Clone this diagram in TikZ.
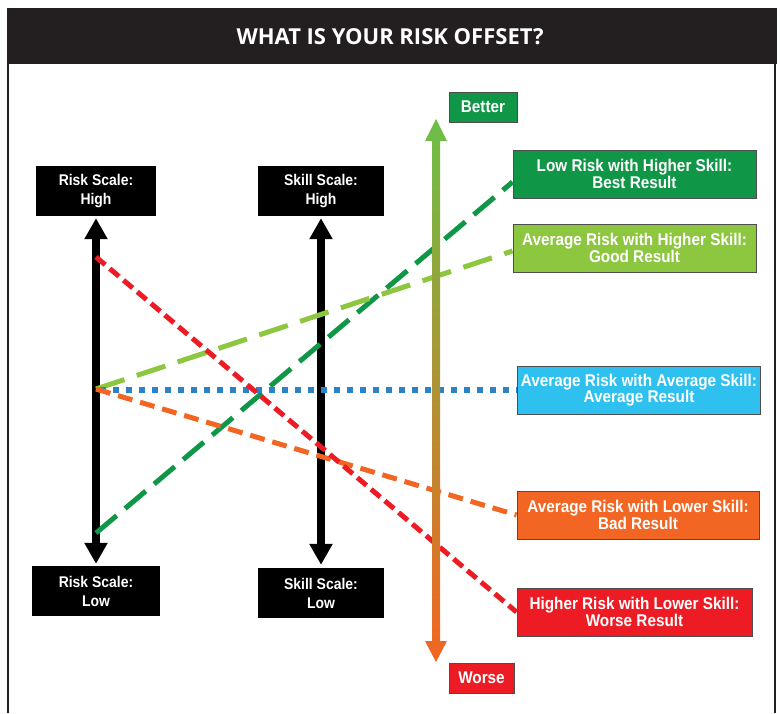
\documentclass[tikz,border=0pt]{standalone}
\usepackage{fontspec}
\setmainfont{Liberation Sans}[FakeStretch=0.9]
\newfontfamily\titlefont{Open Sans}
\usetikzlibrary{arrows.meta,positioning}

\definecolor{framegray}{HTML}{231F20}
\definecolor{bestgreen}{HTML}{0F9647}
\definecolor{goodgreen}{HTML}{8DC63F}
\definecolor{avgcyan}{HTML}{2EC1EF}
\definecolor{avgblue}{HTML}{2A82C7}
\definecolor{badorange}{HTML}{F26522}
\definecolor{worsered}{HTML}{ED1C24}
\definecolor{topgreen}{HTML}{6CBF47}
\definecolor{midolive}{HTML}{9CA83C}

\tikzset{
    scalebox/.style={fill=black, text=white, font=\bfseries\fontsize{15.5}{19}\selectfont,
        align=center, minimum height=50pt, inner sep=0pt},
    resultbox/.style={draw=framegray!80, line width=1pt, text=white,
        font=\bfseries\fontsize{17}{16.5}\selectfont, align=center,
        minimum width=243pt, minimum height=48pt, inner sep=0pt},
    tagbox/.style={resultbox, minimum width=66pt, minimum height=30pt},
    scalearrow/.style={line width=8pt,
        {Triangle[width=22pt,length=21pt]}-{Triangle[width=22pt,length=21pt]}},
    resultline/.style={line width=5pt},
}

\begin{document}
\begin{tikzpicture}[x=1pt, y=-1pt]
    \useasboundingbox (0,0) rectangle (780,713);
    \fill[framegray] (7,8) rectangle (777,64);
    \draw[framegray, line width=2pt] (8,64) -- (8,713) (775,64) -- (775,713);
    \node[text=white, font=\titlefont\bfseries\fontsize{22}{22}\selectfont] (title) at (390,37) {WHAT IS YOUR RISK OFFSET?};

    \node[scalebox, minimum width=120pt] (riskhigh) at (96,191) {Risk Scale:\\High};
    \node[scalebox, minimum width=128pt] (risklow) at (96,591) {Risk Scale:\\Low};
    \node[scalebox, minimum width=126pt] (skillhigh) at (321,191) {Skill Scale:\\High};
    \node[scalebox, minimum width=126pt] (skilllow) at (321,593) {Skill Scale:\\Low};

    \node[resultbox, fill=bestgreen] (lowhigh) at (634.5,174) {Low Risk with Higher Skill:\\Best Result};
    \node[resultbox, fill=goodgreen, below=25pt of lowhigh] (avghigh) {Average Risk with Higher Skill:\\Good Result};
    \node[resultbox, fill=avgcyan] (avgavg) at (639,390) {Average Risk with Average Skill:\\Average Result};
    \node[resultbox, fill=badorange, minimum width=242pt] (avglow) at (638,515) {Average Risk with Lower Skill:\\Bad Result};
    \node[resultbox, fill=worsered, minimum width=235pt] (highlow) at (634.5,612) {Higher Risk with Lower Skill:\\Worse Result};
    \node[tagbox, fill=bestgreen, minimum width=68pt] (better) at (483,107) {Better};
    \node[tagbox, fill=worsered, minimum width=65pt] (worse) at (481.5,678) {Worse};

    \draw[scalearrow] ([yshift=-2pt]riskhigh.south) -- ([yshift=2pt]risklow.north);
    \draw[scalearrow] ([yshift=-2pt]skillhigh.south) -- ([yshift=3pt]skilllow.north);

    \coordinate (riskup) at (96,257);
    \coordinate (riskmid) at (96,389);
    \coordinate (riskdown) at (96,533);

    \draw[resultline, bestgreen, dash pattern=on 27pt off 11pt] (riskdown) -- ([yshift=-8pt]lowhigh.west);
    \draw[resultline, goodgreen, dash pattern=on 30pt off 13pt] (riskmid) -- ([yshift=-3pt]avghigh.west);
    \draw[line width=6pt, avgblue, dash pattern=on 6pt off 7pt] ([xshift=4pt,yshift=-1pt]riskmid) -- (avgavg.west);
    \draw[resultline, badorange, dash pattern=on 15pt off 8pt] (riskmid) -- (avglow.west);
    \draw[resultline, worsered, dash pattern=on 12pt off 6pt] (riskup) -- (highlow.west);

    \coordinate (gradtop) at (436,119);
    \coordinate (gradbot) at (436,662);
    \shade[top color=topgreen, middle color=midolive, bottom color=badorange]
        (gradtop) -- ++(11,22) -- ++(-7,0) -- ++(0,500) -- ++(7,0) -- (gradbot)
        -- ++(-11,-21) -- ++(7,0) -- ++(0,-500) -- ++(-7,0) -- cycle;
\end{tikzpicture}
\end{document}
